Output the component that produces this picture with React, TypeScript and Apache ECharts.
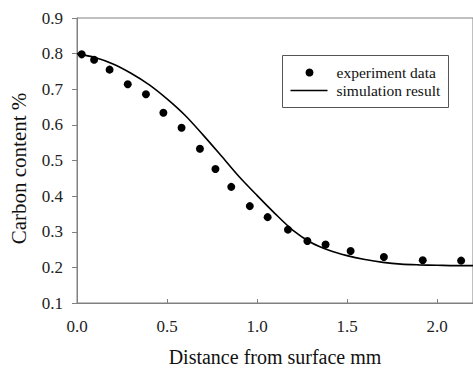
import React, { useEffect, useRef } from "react";
import * as echarts from "echarts";

const expX = [0.026, 0.095, 0.181, 0.282, 0.383, 0.48, 0.581, 0.683, 0.769, 0.857, 0.96, 1.059, 1.172, 1.28, 1.381, 1.52, 1.705, 1.921, 2.134];
const expY = [0.798, 0.783, 0.755, 0.714, 0.686, 0.634, 0.592, 0.533, 0.476, 0.426, 0.372, 0.341, 0.306, 0.274, 0.264, 0.246, 0.229, 0.22, 0.219];

const simX = [0.0, 0.1, 0.2, 0.3, 0.4, 0.5, 0.6, 0.7, 0.8, 0.9, 1.0, 1.1, 1.2, 1.3, 1.4, 1.5, 1.6, 1.7, 1.8, 1.9, 2.0, 2.1, 2.2];
const simY = [0.8, 0.789, 0.771, 0.745, 0.713, 0.673, 0.627, 0.572, 0.514, 0.455, 0.402, 0.351, 0.304, 0.27, 0.248, 0.233, 0.222, 0.214, 0.209, 0.207, 0.206, 0.205, 0.205];

const xTicks = ["0.0", "0.5", "1.0", "1.5", "2.0"];
const yTicks = ["0.1", "0.2", "0.3", "0.4", "0.5", "0.6", "0.7", "0.8", "0.9"];
const legendNames = ["experiment data", "simulation result"];

const FONT = "Liberation Serif";

export default function App() {
  const ref = useRef<HTMLDivElement>(null);
  useEffect(() => {
    if (!ref.current) return;
    const chart = echarts.init(ref.current, undefined, { renderer: "svg" });
    chart.setOption({
      animation: false,
      backgroundColor: "#ffffff",
      textStyle: { fontFamily: FONT },
      grid: {
        left: 76,
        top: 18,
        bottom: 65,
        right: -3.4,
        show: true,
        borderColor: "#808080",
        borderWidth: 1,
      },
      xAxis: {
        type: "value",
        min: 0,
        max: 2.2,
        interval: 0.5,
        name: "Distance from surface mm",
        nameLocation: "middle",
        nameGap: 44,
        nameTextStyle: { fontFamily: FONT, fontSize: 20, color: "#111" },
        axisLine: { lineStyle: { color: "#808080", width: 1 } },
        axisTick: { inside: true, length: 4, lineStyle: { color: "#808080" } },
        axisLabel: {
          showMaxLabel: false,
          margin: 15,
          fontFamily: FONT,
          fontSize: 17,
          color: "#222",
          formatter: (v: number) => {
            const s = v.toFixed(1);
            return xTicks.includes(s) ? s : "";
          },
        },
        splitLine: { show: false },
      },
      yAxis: {
        type: "value",
        min: 0.1,
        max: 0.9,
        interval: 0.1,
        name: "Carbon content %",
        nameLocation: "middle",
        nameGap: 48,
        nameTextStyle: { fontFamily: FONT, fontSize: 21, color: "#111", padding: [0, 16, 0, 0] },
        axisLine: { show: true, lineStyle: { color: "#808080", width: 1 } },
        axisTick: { show: true, inside: false, length: 5, lineStyle: { color: "#808080" } },
        axisLabel: {
          margin: 14,
          fontFamily: FONT,
          fontSize: 17,
          color: "#222",
          formatter: (v: number) => {
            const s = v.toFixed(1);
            return yTicks.includes(s) ? s : "";
          },
        },
        splitLine: { show: false },
      },
      graphic: [
        {
          type: "group",
          left: 282,
          top: 55,
          z: 100,
          children: [
            {
              type: "rect",
              shape: { x: 0, y: 0, width: 166, height: 52 },
              style: { fill: "#fff", stroke: "#555", lineWidth: 1 },
            },
            {
              type: "circle",
              shape: { cx: 27, cy: 17, r: 4 },
              style: { fill: "#000" },
            },
            {
              type: "line",
              shape: { x1: 8, y1: 35, x2: 45, y2: 35 },
              style: { stroke: "#000", lineWidth: 1.6 },
            },
            {
              type: "text",
              x: 54,
              y: 17,
              style: { text: legendNames[0], fontFamily: FONT, fontSize: 15.5, fill: "#111", verticalAlign: "middle", align: "left" },
            },
            {
              type: "text",
              x: 54,
              y: 35,
              style: { text: legendNames[1], fontFamily: FONT, fontSize: 15.5, fill: "#111", verticalAlign: "middle", align: "left" },
            },
          ],
        },
      ],
      series: [
        {
          name: legendNames[0],
          type: "scatter",
          data: expX.map((x, i) => [x, expY[i]]),
          symbol: "circle",
          symbolSize: 8,
          itemStyle: { color: "#000", opacity: 1 },
          z: 3,
        },
        {
          name: legendNames[1],
          type: "line",
          data: simX.map((x, i) => [x, simY[i]]),
          smooth: 0.3,
          symbol: "none",
          showSymbol: false,
          lineStyle: { color: "#000", width: 1.6 },
          itemStyle: { color: "#000" },
          z: 2,
        },
      ],
    });
    return () => chart.dispose();
  }, []);
  return (
    <div
      ref={ref}
      style={{ position: "fixed", left: 0, top: 0, width: 473, height: 372 }}
    />
  );
}
